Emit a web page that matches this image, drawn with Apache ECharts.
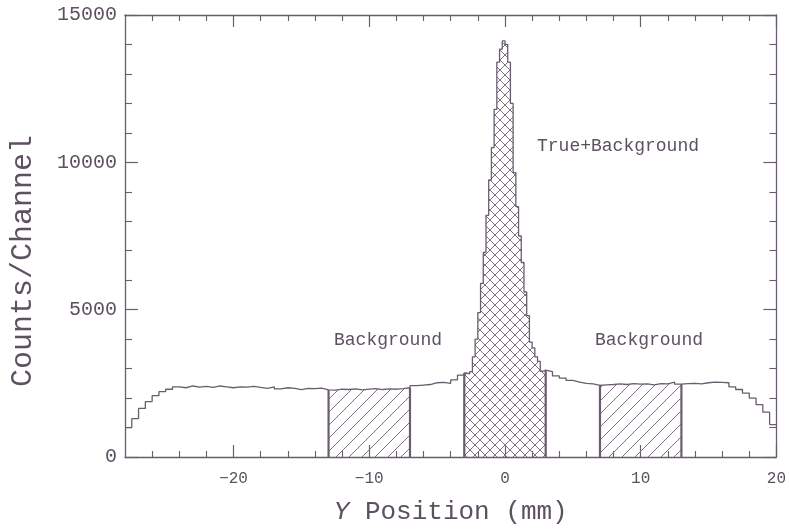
<!DOCTYPE html>
<html><head><meta charset="utf-8">
<script src="https://cdn.jsdelivr.net/npm/echarts@6/dist/echarts.min.js"></script>
<style>html,body{margin:0;padding:0;background:#fff}#c{width:789px;height:530px}</style>
</head><body><div id="c"></div>
<script>
// ---- data ----
const leftStart = -28, bgWidth = 0.5;
const leftCounts = [1000,1300,1650,1880,2080,2220,2300,2380,2350,2410,
  2370,2400,2360,2410,2380,2350,2380,2370,2400,2360,
  2330,2380,2310,2350,2330,2290,2330,2320,2340,2280,
  2270,2300,2290,2310,2280,2300,2320,2290,2310,2300,
  2320,2350,2420,2440,2460,2520,2530,2500,2620,2780];
const peakStart = -3, peakWidth = 0.2;
const peakCounts = [2850,2820,2900,3400,4000,4900,5890,6940,8200,9400,
  10500,11800,13400,13840,14120,14000,13400,12000,9650,8500,
  7500,6600,5600,4800,3900,3700,3400,3245,2910,2950];
const rightStart = 3;
const rightCounts = [2900,2750,2680,2600,2540,2500,2480,2430,2450,2460,
  2480,2460,2490,2470,2480,2450,2490,2480,2540,2470,
  2490,2500,2480,2520,2540,2530,2520,2380,2290,2170,
  2000,1780,1520,1100];
const xMajorTicks = [-20, -10, 0, 10, 20];
const xMinorTicks = [-26,-24,-22,-18,-16,-14,-12,-8,-6,-4,-2,2,4,6,8,12,14,16,18];
const regions = [
  {from: -13, to: -7, kind: 'single'},
  {from: -3, to: 3, kind: 'cross'},
  {from: 7, to: 13, kind: 'single'}
];
const annotations = [
  {text: 'True+Background', x: 618, y: 146},
  {text: 'Background', x: 388, y: 340},
  {text: 'Background', x: 649, y: 340}
];
const yTitle = 'Counts/Channel';

// ---- build bins ----
const r6 = v => Math.round(v * 1e6) / 1e6;
const bins = [];
function addBins(start, w, arr) { arr.forEach((c, i) => bins.push({x0: r6(start + i * w), x1: r6(start + (i + 1) * w), c})); }
addBins(leftStart, bgWidth, leftCounts);
addBins(peakStart, peakWidth, peakCounts);
addBins(rightStart, bgWidth, rightCounts);

const LINE = '#6a5d6e', TEXT = '#5d5161', HATCH = '#7e7183';
const FONT = '"Liberation Mono", monospace';

const histData = bins.map(b => [b.x0, b.c]);
histData.push([bins[bins.length - 1].x1, bins[bins.length - 1].c]);

function hatch(cross) {
  const s = cross ? 10 : 13;
  const cv = document.createElement('canvas'); cv.width = s; cv.height = s;
  const g = cv.getContext('2d'); g.strokeStyle = HATCH; g.lineWidth = 1;
  g.beginPath();
  for (let k = -1; k <= 1; k++) { g.moveTo(k * s, s); g.lineTo(k * s + s, 0); }
  if (cross) for (let k = -1; k <= 1; k++) { g.moveTo(k * s, 0); g.lineTo(k * s + s, s); }
  g.stroke();
  return cv;
}
const patSingle = hatch(false), patCross = hatch(true);

const series = [];
regions.forEach(rg => {
  const inside = bins.filter(b => b.x0 >= rg.from - 1e-9 && b.x1 <= rg.to + 1e-9);
  const d = [[rg.from, 0]].concat(inside.map(b => [b.x0, b.c]));
  d.push([rg.to, inside[inside.length - 1].c], [rg.to, 0]);
  series.push({type: 'line', step: 'end', data: d, symbol: 'none', silent: true, z: 1,
    lineStyle: {width: 0, opacity: 0},
    areaStyle: {color: {image: rg.kind === 'cross' ? patCross : patSingle, repeat: 'repeat'}, opacity: 1}});
  [[rg.from, inside[0].c], [rg.to, inside[inside.length - 1].c]].forEach(([x, h]) => {
    series.push({type: 'line', data: [[x, 0], [x, h]], symbol: 'none', silent: true, z: 3,
      lineStyle: {color: LINE, width: 2.2}});
  });
});
series.push({type: 'line', step: 'end', data: histData, symbol: 'none', z: 2,
  lineStyle: {color: LINE, width: 1.3}});

const axisCommon = {type: 'value', min: -28, max: 20, splitLine: {show: false}};
const yCommon = {type: 'value', min: 0, max: 15000, interval: 5000,
  axisLine: {show: true, onZero: false, lineStyle: {color: LINE, width: 1.3}},
  axisTick: {show: true, inside: true, length: 13, lineStyle: {color: LINE, width: 1.2}},
  minorTick: {show: true, splitNumber: 5, length: 7, lineStyle: {color: LINE, width: 1.1}},
  splitLine: {show: false}, minorSplitLine: {show: false}};
const chart = echarts.init(document.getElementById('c'), null, {renderer: 'canvas'});
chart.setOption({
  animation: false,
  backgroundColor: '#fff',
  grid: {left: 125, right: 12, top: 15, bottom: 62},
  xAxis: [
    Object.assign({}, axisCommon, {position: 'bottom',
      axisLine: {show: true, onZero: false, lineStyle: {color: LINE, width: 1.3}},
      axisTick: {show: true, inside: true, length: 12, customValues: xMajorTicks, lineStyle: {color: LINE, width: 1.2}},
      axisLabel: {customValues: xMajorTicks, color: TEXT, fontFamily: FONT, fontSize: 16, margin: 14,
        formatter: v => v < 0 ? '\u2212' + Math.abs(v) : String(v)},
      name: '{i|Y} Position (mm)', nameLocation: 'middle', nameGap: 42,
      nameTextStyle: {color: TEXT, fontFamily: FONT, fontSize: 26,
        rich: {i: {fontStyle: 'italic', fontFamily: FONT, fontSize: 26, color: TEXT}}}}),
    Object.assign({}, axisCommon, {position: 'bottom', axisLine: {show: false, onZero: false},
      axisTick: {show: true, inside: true, length: 6, customValues: xMinorTicks, lineStyle: {color: LINE, width: 1.1}},
      axisLabel: {show: false}}),
    Object.assign({}, axisCommon, {position: 'top',
      axisLine: {show: true, onZero: false, lineStyle: {color: LINE, width: 1.3}},
      axisTick: {show: true, inside: true, length: 12, customValues: xMajorTicks, lineStyle: {color: LINE, width: 1.2}},
      axisLabel: {show: false}}),
    Object.assign({}, axisCommon, {position: 'top', axisLine: {show: false, onZero: false},
      axisTick: {show: true, inside: true, length: 6, customValues: xMinorTicks, lineStyle: {color: LINE, width: 1.1}},
      axisLabel: {show: false}})
  ],
  yAxis: [
    Object.assign({}, yCommon, {position: 'left',
      axisLabel: {color: TEXT, fontFamily: FONT, fontSize: 20, margin: 8, formatter: v => String(v)}}),
    Object.assign({}, yCommon, {position: 'right', axisLabel: {show: false}})
  ],
  graphic: annotations.map(a => ({type: 'text', x: a.x, y: a.y, silent: true,
    style: {text: a.text, fill: TEXT, font: '18px ' + FONT, textAlign: 'center', textVerticalAlign: 'middle'}}))
    .concat([{type: 'text', x: 23, y: 261, rotation: Math.PI / 2, silent: true,
      style: {text: yTitle, fill: TEXT, font: '30px ' + FONT, textAlign: 'center', textVerticalAlign: 'middle'}}]),
  series: series
});
</script>
</body></html>
